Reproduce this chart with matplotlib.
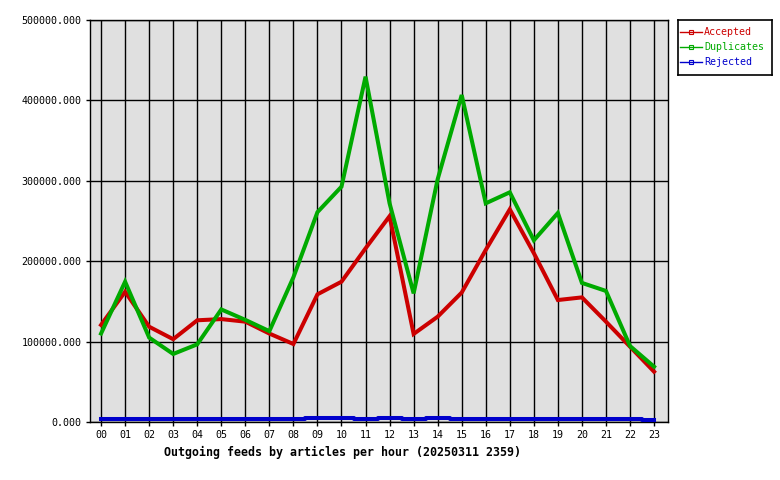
import matplotlib
matplotlib.use("Agg")
import matplotlib.pyplot as plt
import numpy as np

hours = ["00","01","02","03","04","05","06","07","08","09","10","11",
         "12","13","14","15","16","17","18","19","20","21","22","23"]
accepted = [120700, 162000, 118500, 103000, 126500, 128000, 124800, 110000, 97000, 158800, 174500, 216000,
            256000, 109500, 131000, 161000, 214000, 264500, 210000, 151700, 155000, 124800, 93700, 62600]
duplicates = [110000, 174500, 105000, 84600, 96600, 140000, 127000, 113000, 180000, 261000, 292700, 429500,
              272000, 160000, 302000, 406700, 272000, 285700, 226000, 260000, 173000, 163000, 94500, 68800]
rejected = [3500, 3500, 3500, 3500, 3500, 3500, 3500, 3500, 3500, 5000, 5000, 3500,
            5000, 3500, 5000, 3500, 3500, 3500, 3500, 3500, 3500, 3500, 3500, 2000]
yticks = [0, 100000, 200000, 300000, 400000, 500000]
title = "Outgoing feeds by articles per hour (20250311 2359)"

mono = "DejaVu Sans Mono"
fig = plt.figure(figsize=(7.8, 4.8), dpi=100)
ax = fig.add_axes([90/780, 58/480, 578/780, 402/480])
ax.set_facecolor("#e0e0e0")
x = np.arange(len(hours))

ax.plot(x, accepted, color="#cc0000", lw=2.9, solid_joinstyle="miter", zorder=3)
ax.plot(x, duplicates, color="#00aa00", lw=2.9, solid_joinstyle="miter", zorder=4)
ax.plot(x, rejected, color="#0000cc", lw=2.9, drawstyle="steps-mid", zorder=5)

ax.set_xlim(-0.46, 23.58)
ax.set_ylim(0, 500000)
ax.set_xticks(x)
ax.set_xticklabels(hours, fontfamily=mono, fontsize=7.2)
ax.set_yticks(yticks)
ax.set_yticklabels([f"{v}.000" for v in yticks], fontfamily=mono, fontsize=7.2)
ax.tick_params(length=3, width=1, color="black", pad=3)
ax.grid(True, color="black", lw=1)
ax.set_axisbelow(True)
for s in ax.spines.values():
    s.set_linewidth(1)
    s.set_color("black")
fig.text(343/780, 1 - 452/480, title, fontfamily=mono, fontsize=8.4,
         fontweight="bold", ha="center", va="center")

# legend
lax = fig.add_axes([678/780, 405/480, 94/780, 55/480])
lax.set_xlim(0, 94)
lax.set_ylim(55, 0)
lax.set_xticks([]); lax.set_yticks([])
for s in lax.spines.values():
    s.set_linewidth(1.2)
names = ["Accepted", "Duplicates", "Rejected"]
colors = ["#cc0000", "#00aa00", "#0000cc"]
for i, (n, c) in enumerate(zip(names, colors)):
    yy = 12 + i * 15
    lax.plot([2, 24], [yy, yy], color=c, lw=1)
    lax.plot([13], [yy], marker="s", ms=3, mfc="none", mec=c, mew=0.8)
    lax.text(26, yy, n, color=c, fontfamily=mono, fontsize=7.2, va="center", ha="left")

fig.savefig("out.png", dpi=100)
